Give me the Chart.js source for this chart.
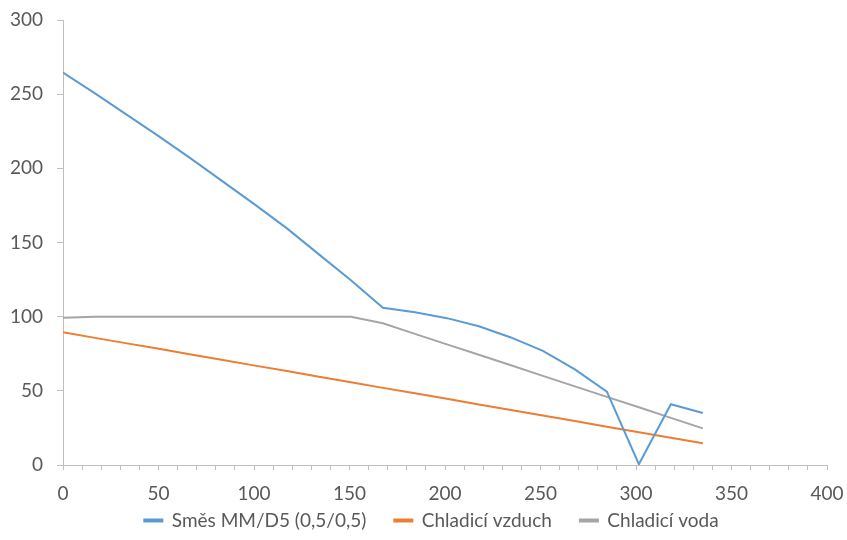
<!DOCTYPE html>
<html>
<head>
<meta charset="utf-8">
<script src="https://cdn.jsdelivr.net/npm/chart.js@4.4.1/dist/chart.umd.min.js"></script>
<style>
html,body{margin:0;padding:0;background:#fff;}
#wrap{width:847px;height:540px;position:relative;}
</style>
</head>
<body>
<div id="wrap"><canvas id="c" width="847" height="540"></canvas></div>
<script>
const xValues = [0, 16.75, 33.5, 50.25, 67, 83.75, 100.5, 117.25, 134, 150.75, 167.5, 184.25, 201, 217.75, 234.5, 251.25, 268, 284.75, 301.5, 318.25, 335];
const smesMM = [264.5, 250.5, 236, 221.5, 206.5, 191, 175.5, 159.5, 142, 124.5, 106, 103, 99, 93.5, 86, 77, 64.5, 49.5, 0.5, 41, 35];
const chladiciVzduch = [89.5, 85.7, 82.0, 78.3, 74.5, 70.8, 67.0, 63.3, 59.5, 55.8, 52.0, 48.3, 44.6, 40.8, 37.1, 33.3, 29.6, 25.8, 22.1, 18.4, 14.6];
const chladiciVoda = [99.3, 100, 100, 100, 100, 100, 100, 100, 100, 100, 95.5, 88.4, 81.3, 74.3, 67.2, 60.1, 53.0, 45.9, 38.9, 31.8, 24.7];
const seriesNames = ['Směs MM/D5 (0,5/0,5)', 'Chladicí vzduch', 'Chladicí voda'];
const colors = ['#5B9BD5', '#ED7D31', '#A5A5A5'];

function pts(ys){ return xValues.map((x,i)=>({x:x, y:ys[i]})); }
const allSeries = [smesMM, chladiciVzduch, chladiciVoda];

const axisColor = '#BFBFBF';
const textColor = '#595959';
const fontFamily = 'Lato, "Open Sans", sans-serif';
const fontSize = 19;

const legendShift = {
  id: 'legendShift',
  afterLayout(chart) {
    const lg = chart.legend;
    if (!lg) return;
    lg.left += 18;
    lg.right += 18;
    if (lg.adjustHitBoxes) lg.adjustHitBoxes();
  }
};

new Chart(document.getElementById('c'), {
  type: 'line',
  data: {
    datasets: allSeries.map((s,i)=>({
      label: seriesNames[i],
      data: pts(s),
      borderColor: colors[i],
      backgroundColor: colors[i],
      borderWidth: 2,
      pointRadius: 0,
      tension: 0,
      fill: false
    }))
  },
  plugins: [legendShift],
  options: {
    responsive: false,
    animation: false,
    devicePixelRatio: 1,
    layout: { padding: { top: 20, right: 20, left: 0, bottom: 0 } },
    plugins: {
      legend: {
        position: 'bottom',
        labels: {
          boxWidth: 18,
          boxHeight: 2,
          padding: 28,
          color: textColor,
          font: { family: fontFamily, size: fontSize }
        }
      },
      tooltip: { enabled: false }
    },
    scales: {
      x: {
        type: 'linear',
        min: 0, max: 400,
        border: { color: axisColor, width: 1 },
        grid: { drawOnChartArea: false, drawTicks: true, tickLength: 5, color: axisColor },
        afterFit: (scale) => {
          scale.height = 18;
          scale.paddingLeft = 0;
          scale.paddingRight = 0;
          scale._computeLabelArea = () => undefined;
        },
        ticks: {
          stepSize: 10,
          autoSkip: false,
          maxRotation: 0,
          padding: 12,
          color: textColor,
          font: { family: fontFamily, size: fontSize },
          callback: (v)=> (v % 50 === 0 ? String(v) : '')
        }
      },
      y: {
        type: 'linear',
        min: 0, max: 300,
        border: { color: axisColor, width: 1 },
        grid: { drawOnChartArea: false, drawTicks: true, tickLength: 6, color: axisColor },
        afterFit: (scale) => {
          scale.width = 63;
          scale.paddingTop = 0;
          scale.paddingBottom = 0;
        },
        ticks: {
          stepSize: 50,
          padding: 14,
          color: textColor,
          font: { family: fontFamily, size: fontSize }
        }
      }
    }
  }
});
</script>
</body>
</html>
